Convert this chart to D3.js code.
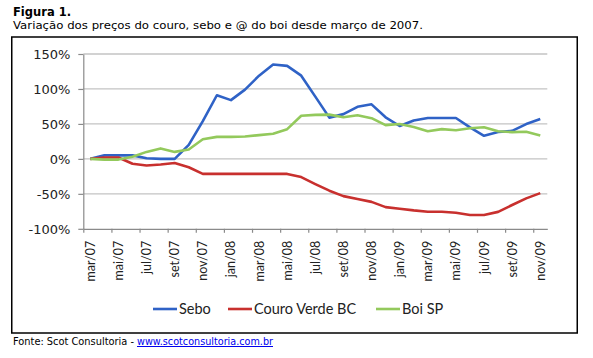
<!DOCTYPE html>
<html><head><meta charset="utf-8">
<script src="https://cdn.jsdelivr.net/npm/d3@7"></script>
<style>
body{margin:0;background:#fff;}
svg{display:block;}
</style></head>
<body>
<svg id="chart" width="593" height="358"></svg>
<script>
const categories = ["mar/07","abr/07","mai/07","jun/07","jul/07","ago/07","set/07","out/07","nov/07","dez/07",
  "jan/08","fev/08","mar/08","abr/08","mai/08","jun/08","jul/08","ago/08","set/08","out/08","nov/08","dez/08",
  "jan/09","fev/09","mar/09","abr/09","mai/09","jun/09","jul/09","ago/09","set/09","out/09","nov/09"];
const sebo  = [0,5,5,5,1,0,0,20,54,91,84,99,119,135,133,119,89,59,64,74.5,78,59.5,47,55,58.5,58.5,58.5,45,33,38.5,40,49.8,57];
const couro = [0,2,2,-7,-9.5,-8,-6,-12,-21.5,-21.5,-21.5,-21.5,-21.5,-21.5,-21.5,-26,-36,-45.5,-53.3,-57.5,-61.5,-69,-71.3,-73.7,-75.6,-75.6,-77,-80.2,-80.2,-75.8,-66,-56.5,-49];
const boi   = [0,-1,-1,3,10,15,10,13.4,28,31.5,31.5,32,34,36,42.5,61.7,63,63.3,59.6,62.4,58.2,48.3,49.9,45.5,39.5,42.6,41,43.7,45.3,39.5,38.3,38.8,33.5];
const yTicks = [-100,-50,0,50,100,150];
const seriesNames = ["Sebo","Couro Verde BC","Boi SP"];
const seriesColors = ["#2f62c6","#c8302e","#93c95c"];

const svg = d3.select("#chart");
const ff = "'DejaVu Sans', Verdana, sans-serif";
const cal = "Lato, 'Open Sans', sans-serif";

// Title
svg.append("text").attr("x",13).attr("y",16).attr("font-family",ff).attr("font-weight","bold")
  .attr("font-size",11.5).attr("fill","#000").text("Figura 1.");
svg.append("text").attr("x",13).attr("y",29).attr("font-family",ff).attr("font-size",11)
  .attr("textLength",410).attr("lengthAdjust","spacingAndGlyphs").attr("fill","#000")
  .text("Variação dos preços do couro, sebo e @ do boi desde março de 2007.");

// Frame
svg.append("rect").attr("x",11.75).attr("y",37).attr("width",565.5).attr("height",296)
  .attr("fill","none").attr("stroke","#000").attr("stroke-width",1.5);

// Scales
const x0 = 83.3, x1 = 547.3;
const xIdx = d3.scaleLinear().domain([0,categories.length]).range([x0,x1]);
const y = d3.scaleLinear().domain([-100,150]).range([228.8,54]);

// Gridlines
svg.append("g").selectAll("line").data(yTicks.filter(d=>d>-100)).join("line")
  .attr("x1",x0).attr("x2",x1).attr("y1",d=>y(d)).attr("y2",d=>y(d))
  .attr("stroke","#c3c3c3").attr("stroke-width",1.3);

// Y axis
const yAxis = svg.append("g").attr("transform",`translate(${x0},0)`)
  .call(d3.axisLeft(y).tickValues(yTicks).tickFormat(d=>d+"%").tickSize(5).tickSizeOuter(0));
yAxis.select(".domain").attr("stroke","#8a8a8a").attr("stroke-width",1.2);
yAxis.selectAll(".tick line").attr("stroke","#8a8a8a").attr("stroke-width",1.2);
yAxis.selectAll(".tick text").attr("font-family",ff).attr("font-size",13).attr("fill","#222")
  .attr("x",-13).attr("dy","0.36em");

// X axis
const xAxis = svg.append("g").attr("transform",`translate(0,${y(-100)})`)
  .call(d3.axisBottom(xIdx).tickValues(d3.range(0,categories.length,2)).tickFormat("").tickSize(4).tickSizeOuter(0));
xAxis.select(".domain").attr("stroke","#8a8a8a").attr("stroke-width",1.2);
xAxis.selectAll(".tick line").attr("stroke","#8a8a8a").attr("stroke-width",1.2);

// X labels
svg.append("g").selectAll("text").data(categories.map((c,i)=>({c,i})).filter(d=>d.i%2===0)).join("text")
  .attr("transform",d=>`translate(${xIdx(d.i+0.5)+4.5},${y(-100)+12}) rotate(-90)`)
  .attr("text-anchor","end").attr("font-family",cal).attr("font-size",12.5).attr("fill","#222")
  .text(d=>d.c);

// Lines
const line = d3.line().x((d,i)=>xIdx(i+0.5)).y(d=>y(d));
[sebo,couro,boi].forEach((vals,k)=>{
  svg.append("path").datum(vals).attr("d",line).attr("fill","none")
    .attr("stroke",seriesColors[k]).attr("stroke-width",2.6).attr("stroke-linejoin","round");
});

// Legend
const legX = [153,228,376];
seriesNames.forEach((n,k)=>{
  svg.append("line").attr("x1",legX[k]).attr("x2",legX[k]+24).attr("y1",309).attr("y2",309)
    .attr("stroke",seriesColors[k]).attr("stroke-width",2.6);
  svg.append("text").attr("x",legX[k]+26).attr("y",314).attr("font-family",cal).attr("font-size",14.5)
    .attr("fill","#222").text(n);
});

// Footer
svg.append("text").attr("x",13).attr("y",345).attr("font-family",ff).attr("font-size",10)
  .attr("textLength",121).attr("lengthAdjust","spacingAndGlyphs").attr("fill","#000")
  .text("Fonte: Scot Consultoria - ");
svg.append("text").attr("x",137).attr("y",345).attr("font-family",ff).attr("font-size",10)
  .attr("textLength",136).attr("lengthAdjust","spacingAndGlyphs").attr("fill","#0000ee")
  .attr("text-decoration","underline")
  .text("www.scotconsultoria.com.br");
</script>
</body></html>
